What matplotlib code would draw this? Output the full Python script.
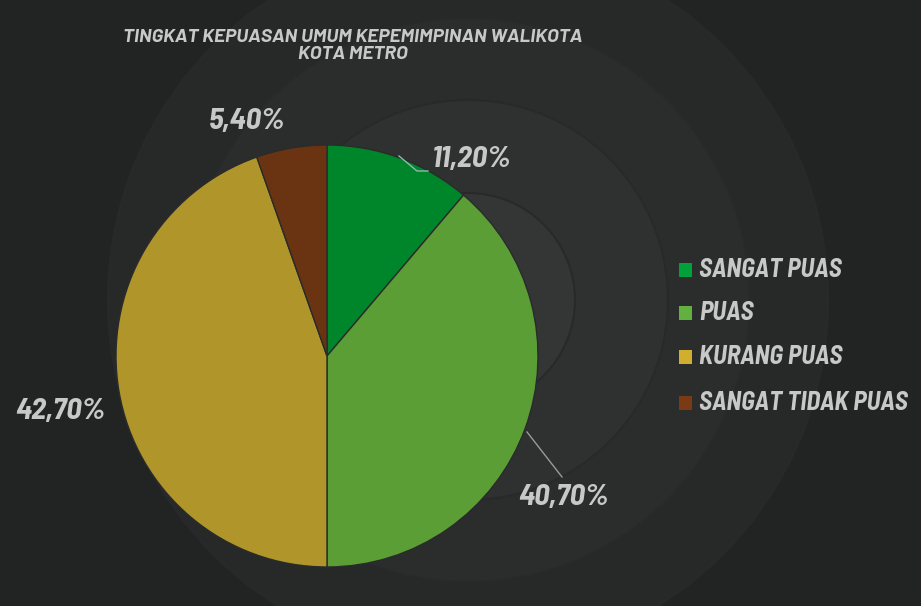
import matplotlib
matplotlib.use("Agg")
import matplotlib.pyplot as plt
from matplotlib.patches import Circle, Rectangle

# data (slice sizes as drawn in the picture, labels as printed)
labels = ["SANGAT PUAS", "PUAS", "KURANG PUAS", "SANGAT TIDAK PUAS"]
values = [11.2, 38.8, 44.6, 5.4]
pct_text = ["11,20%", "40,70%", "42,70%", "5,40%"]
colors = ["#00862A", "#5A9E35", "#B0952A", "#6A3413"]
legend_colors = ["#00A03A", "#62B040", "#D2AE2E", "#7A3A14"]
title = "TINGKAT KEPUASAN UMUM KEPEMIMPINAN WALIKOTA\nKOTA METRO"

W, H = 921, 606
fnt = ["Barlow Semi Condensed", "DejaVu Sans"]
txt_col = "#C8C8C8"

fig = plt.figure(figsize=(W / 100, H / 100), dpi=100)
fig.patch.set_facecolor("#222323")
ax = fig.add_axes([0, 0, 1, 1])

# background rings
ring_col = ["#272828", "#2b2c2c", "#2f3030", "#343535"]
ring_r = [360, 282, 200, 107]
for r, c in zip(ring_r, ring_col):
    ax.add_patch(Circle((468, H - 300), r, facecolor=c, edgecolor="#29292c",
                        lw=1.5, zorder=0))

# pie
ax.pie(values, colors=colors, startangle=90, counterclock=False,
       center=(327, H - 356), radius=211, frame=True,
       wedgeprops=dict(edgecolor="#2a2b2b", linewidth=1))
ax.set_xlim(0, W)
ax.set_ylim(0, H)
ax.set_aspect("equal")
ax.axis("off")

# percentage labels
lab_pos = [(472, H - 160), (563, H - 497), (60, H - 412), (247, H - 122)]
for t, (x, y) in zip(pct_text, lab_pos):
    ax.text(x, y, t, ha="center", va="center", fontsize=22, color=txt_col,
            family=fnt, weight="bold", style="italic", zorder=5)

# leader lines
ax.plot([399, 417, 428], [H - 156, H - 171, H - 171], color="#8fb8b0", lw=1, zorder=4)
ax.plot([527, 562], [H - 432, H - 477], color="#9a9a9a", lw=1, zorder=4)

# title
ax.text(353, H - 46, title, ha="center", va="center", fontsize=14, color=txt_col,
        family=["Barlow", "DejaVu Sans"], weight="bold", style="italic",
        linespacing=1.05)

# legend
leg_y = [270, 313, 357, 403]
for lab, c, y in zip(labels, legend_colors, leg_y):
    ax.add_patch(Rectangle((679, H - y - 7), 13, 14, color=c, lw=0, zorder=5))
    ax.text(699, H - y, lab, ha="left", va="center", fontsize=18.5, color=txt_col,
            family=fnt, weight="bold", style="italic", zorder=5)

fig.savefig("out.png", dpi=100, facecolor=fig.get_facecolor())
